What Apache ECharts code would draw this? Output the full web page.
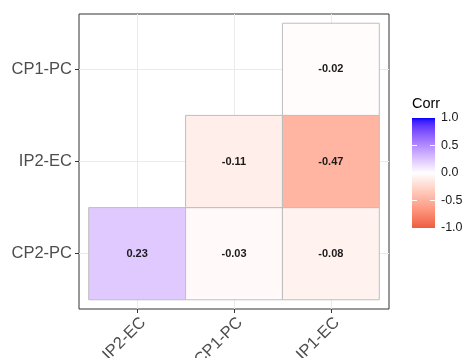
<!DOCTYPE html>
<html>
<head>
<meta charset="utf-8">
<script src="https://cdn.jsdelivr.net/npm/echarts@6/dist/echarts.min.js"></script>
<style>
  html, body { margin: 0; padding: 0; background: #fff; }
  #chart { width: 464px; height: 358px; }
</style>
</head>
<body>
<div id="chart"></div>
<script>
// Correlation matrix (lower triangle) drawn as a tile plot
const xCats = ['IP2-EC', 'CP1-PC', 'IP1-EC'];
const yCats = ['CP2-PC', 'IP2-EC', 'CP1-PC'];   // bottom to top
const cellCol = ['IP2-EC', 'CP1-PC', 'IP1-EC', 'CP1-PC', 'IP1-EC', 'IP1-EC'];
const cellRow = ['CP2-PC', 'CP2-PC', 'CP2-PC', 'IP2-EC', 'IP2-EC', 'CP1-PC'];
const corr = [0.23, -0.03, -0.08, -0.11, -0.47, -0.02];
const legendBreaks = [-1, -0.5, 0, 0.5, 1];
const legendInnerTicks = [-0.5, 0, 0.5];

const LOW = '#EE5C42', MID = '#FFFFFF', HIGH = '#0000FF';
const FONT = '"Liberation Sans", Arial, sans-serif';

// --- diverging gradient interpolated in CIE Lab ---
function hexToRgb(h) {
  return [parseInt(h.slice(1, 3), 16), parseInt(h.slice(3, 5), 16), parseInt(h.slice(5, 7), 16)];
}
function toLin(c) { c /= 255; return c <= 0.04045 ? c / 12.92 : Math.pow((c + 0.055) / 1.055, 2.4); }
function fromLin(c) { const v = c <= 0.0031308 ? 12.92 * c : 1.055 * Math.pow(c, 1 / 2.4) - 0.055; return Math.round(Math.max(0, Math.min(1, v)) * 255); }
const Xn = 0.95047, Yn = 1.0, Zn = 1.08883;
function fLab(t) { return t > 0.008856 ? Math.cbrt(t) : 7.787 * t + 16 / 116; }
function fLabInv(t) { return t > 0.206893 ? t * t * t : (t - 16 / 116) / 7.787; }
function rgbToLab(rgb) {
  const r = toLin(rgb[0]), g = toLin(rgb[1]), b = toLin(rgb[2]);
  const X = 0.4124564 * r + 0.3575761 * g + 0.1804375 * b;
  const Y = 0.2126729 * r + 0.7151522 * g + 0.0721750 * b;
  const Z = 0.0193339 * r + 0.1191920 * g + 0.9503041 * b;
  const fx = fLab(X / Xn), fy = fLab(Y / Yn), fz = fLab(Z / Zn);
  return [116 * fy - 16, 500 * (fx - fy), 200 * (fy - fz)];
}
function labToHex(lab) {
  const fy = (lab[0] + 16) / 116, fx = fy + lab[1] / 500, fz = fy - lab[2] / 200;
  const X = Xn * fLabInv(fx), Y = Yn * fLabInv(fy), Z = Zn * fLabInv(fz);
  const r = 3.2404542 * X - 1.5371385 * Y - 0.4985314 * Z;
  const g = -0.9692660 * X + 1.8760108 * Y + 0.0415560 * Z;
  const b = 0.0556434 * X - 0.2040259 * Y + 1.0572252 * Z;
  return '#' + [r, g, b].map(c => fromLin(c).toString(16).padStart(2, '0')).join('');
}
const labLow = rgbToLab(hexToRgb(LOW)), labMid = rgbToLab(hexToRgb(MID)), labHigh = rgbToLab(hexToRgb(HIGH));
function corrColor(v) {
  const t = Math.min(1, Math.abs(v));
  const end = v < 0 ? labLow : labHigh;
  return labToHex([0, 1, 2].map(i => labMid[i] + (end[i] - labMid[i]) * t));
}

const cells = corr.map((v, i) => [xCats.indexOf(cellCol[i]), yCats.indexOf(cellRow[i]), v]);

const gradStops = [];
for (let i = 0; i <= 40; i++) {
  gradStops.push({ offset: i / 40, color: corrColor(1 - 2 * i / 40) });
}

const chart = echarts.init(document.getElementById('chart'), null, { renderer: 'canvas' });
chart.setOption({
  animation: false,
  backgroundColor: '#ffffff',
  grid: [
    { left: 79, top: 14, width: 310, height: 295, containLabel: false, outerBoundsMode: 'none',
      show: true, borderColor: '#333333', borderWidth: 1, backgroundColor: 'transparent' },
    { left: 412, top: 118, width: 23, height: 110, containLabel: false, outerBoundsMode: 'none' }
  ],
  xAxis: [
    {
      type: 'value', gridIndex: 0, min: -0.6, max: 2.6, position: 'bottom',
      axisLine: { show: false, onZero: false },
      axisTick: { show: true, length: 4, customValues: [0, 1, 2], lineStyle: { color: '#333333' } },
      axisLabel: {
        customValues: [0, 1, 2], rotate: 45, margin: 5,
        align: 'right', verticalAlign: 'top',
        formatter: v => xCats[Math.round(v)] || '',
        color: '#4D4D4D', fontSize: 16.5, fontFamily: FONT
      },
      splitLine: { show: true, lineStyle: { color: '#EBEBEB', width: 1 } }
    },
    { type: 'value', gridIndex: 1, min: 0, max: 1, show: false }
  ],
  yAxis: [
    {
      type: 'value', gridIndex: 0, min: -0.6, max: 2.6, position: 'left',
      axisLine: { show: false, onZero: false },
      axisTick: { show: true, length: 4, customValues: [0, 1, 2], lineStyle: { color: '#333333' } },
      axisLabel: {
        customValues: [0, 1, 2], margin: 7,
        formatter: v => yCats[Math.round(v)] || '',
        color: '#4D4D4D', fontSize: 16.5, fontFamily: FONT
      },
      splitLine: { show: true, lineStyle: { color: '#EBEBEB', width: 1 } }
    },
    {
      type: 'value', gridIndex: 1, min: -1, max: 1, position: 'right',
      axisLine: { show: false, onZero: false },
      axisTick: { show: true, inside: true, length: 5, customValues: legendInnerTicks, lineStyle: { color: '#FFFFFF', width: 1 } },
      axisLabel: {
        customValues: legendBreaks, margin: 6,
        formatter: v => v.toFixed(1),
        color: '#1A1A1A', fontSize: 12.5, fontFamily: FONT
      },
      splitLine: { show: false },
      z: 5
    },
    {
      type: 'value', gridIndex: 1, min: -1, max: 1, position: 'left',
      axisLine: { show: false, onZero: false },
      axisTick: { show: true, inside: true, length: 5, customValues: legendInnerTicks, lineStyle: { color: '#FFFFFF', width: 1 } },
      axisLabel: { show: false },
      splitLine: { show: false },
      z: 5
    }
  ],
  graphic: [
    { type: 'text', left: 412, top: 96, style: { text: 'Corr', fill: '#000000', font: '14.5px ' + FONT } }
  ],
  series: [
    {
      type: 'custom',
      xAxisIndex: 0, yAxisIndex: 0,
      data: cells,
      encode: { x: 0, y: 1 },
      renderItem: function (params, api) {
        const x = api.value(0), y = api.value(1), v = api.value(2);
        const p0 = api.coord([x - 0.5, y + 0.5]);
        const p1 = api.coord([x + 0.5, y - 0.5]);
        return {
          type: 'group',
          children: [
            {
              type: 'rect',
              shape: { x: p0[0], y: p0[1], width: p1[0] - p0[0], height: p1[1] - p0[1] },
              style: { fill: corrColor(v), stroke: '#BEBEBE', lineWidth: 1 }
            },
            {
              type: 'text',
              style: {
                x: (p0[0] + p1[0]) / 2, y: (p0[1] + p1[1]) / 2,
                text: v.toFixed(2), fill: '#1A1A1A',
                font: 'bold 11px ' + FONT, align: 'center', verticalAlign: 'middle'
              }
            }
          ]
        };
      }
    },
    {
      type: 'custom',
      xAxisIndex: 1, yAxisIndex: 1,
      data: [[0, 1]],
      z: 1,
      renderItem: function (params, api) {
        const p0 = api.coord([0, 1]);
        const p1 = api.coord([1, -1]);
        return {
          type: 'rect',
          shape: { x: p0[0], y: p0[1], width: p1[0] - p0[0], height: p1[1] - p0[1] },
          style: { fill: new echarts.graphic.LinearGradient(0, 0, 0, 1, gradStops) }
        };
      }
    }
  ]
});
</script>
</body>
</html>
